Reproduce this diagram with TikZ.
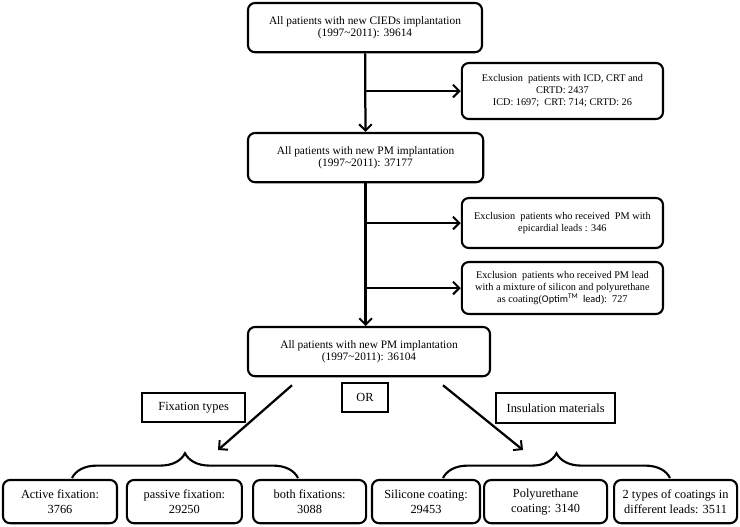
\documentclass[tikz,border=0pt]{standalone}
\usepackage{fontspec}
\setmainfont{Liberation Serif}
\newfontfamily\optimfont{Carlito}
\usetikzlibrary{positioning, calc, arrows.meta, decorations.pathreplacing}

\begin{document}
\begin{tikzpicture}[
    every node/.style={align=center, inner sep=2pt},
    box/.style={draw, line width=1.5pt, rounded corners=5pt, font=\fontsize{8.1}{8.8}\selectfont},
    exbox/.style={draw, line width=1.5pt, rounded corners=5pt, minimum width=5.03cm, font=\fontsize{7.3}{8.5}\selectfont},
    tag/.style={draw, line width=1.4pt, minimum height=0.73cm, font=\fontsize{8.8}{10}\selectfont},
    leaf/.style={draw, line width=1.5pt, rounded corners=5pt, minimum height=1.08cm, font=\fontsize{8.8}{10.6}\selectfont},
    arr/.style={line width=1.6pt, -{Straight Barb[length=4.5pt, width=9pt, line width=1.4pt]}},
    brc/.style={line width=1.5pt, decorate, decoration={brace, amplitude=0.62cm}}]
    \useasboundingbox (0,0) rectangle (18.5,-13.15);

    % Main flow
    \node[box, minimum width=5.85cm, minimum height=1.23cm] (allcied) at (9.125, -0.69) {All patients with new CIEDs implantation\\(1997\textasciitilde2011): 39614};
    \node[box, minimum width=5.88cm, minimum height=1.23cm] (allpm) at (9.14, -3.94) {All patients with new PM implantation\\(1997\textasciitilde2011): 37177};
    \node[box, minimum width=6.05cm, minimum height=1.23cm] (finalpm) at (9.225, -8.79) {All patients with new PM implantation\\(1997\textasciitilde2011): 36104};

    % Exclusions
    \node[exbox, minimum height=1.4cm] (exicd) at (14.06, -2.275) {Exclusion\ \ patients with ICD, CRT and\\CRTD: 2437\\ICD: 1697;\ \ CRT: 714; CRTD: 26};
    \node[exbox, minimum height=1.25cm] (exepi) at (14.06, -5.575) {Exclusion\ \ patients who received\ \ PM with\\epicardial leads : 346};
    \node[exbox, minimum height=1.3cm] (exoptim) at (14.06, -7.2) {Exclusion\ \ patients who received PM lead\\with a mixture of silicon and polyurethane\\as coating({\optimfont Optim\textsuperscript{TM}\ \ lead}):\ \ 727};

    \draw[arr] (allcied) -- (allpm);
    \draw[arr] (allpm.south) -- (allpm.south |- finalpm.north);
    \draw[arr] (allcied.south |- exicd.west) -- (exicd.west);
    \draw[arr] (allpm.south |- exepi.west) -- (exepi.west);
    \draw[arr] (allpm.south |- exoptim.west) -- (exoptim.west);

    % Split
    \node[tag, minimum width=1.15cm] (orbox) at (9.125, -9.94) {OR};
    \node[tag, minimum width=2.575cm] (fixlab) at (4.84, -10.19) {Fixation types};
    \node[tag, minimum width=2.975cm] (inslab) at (13.89, -10.2) {Insulation materials};

    \coordinate (fixtip) at (5.45, -11.25);
    \coordinate (instip) at (13.075, -11.25);
    \draw[arr] ($(finalpm.south)+(-1.925,-0.2)$) -- (fixtip);
    \draw[arr] ($(finalpm.south)+(1.85,-0.2)$) -- (instip);

    \draw[brc] (1.8, -11.95) -- (7.45, -11.95);
    \draw[brc] (11.075, -11.95) -- (16.75, -11.95);

    % Groups
    \node[leaf, minimum width=2.85cm] (act) at (1.5, -12.54) {Active fixation:\\3766};
    \node[leaf, minimum width=2.875cm] (pas) at (4.61, -12.54) {passive fixation:\\29250};
    \node[leaf, minimum width=2.825cm] (both) at (7.74, -12.54) {both fixations:\\3088};
    \node[leaf, minimum width=2.7cm] (sil) at (10.65, -12.54) {Silicone coating:\\29453};
    \node[leaf, minimum width=3.075cm] (poly) at (13.64, -12.54) {Polyurethane\\coating: 3140};
    \node[leaf, minimum width=3.075cm] (mix) at (16.89, -12.54) {2 types of coatings in\\different leads: 3511};
\end{tikzpicture}
\end{document}
